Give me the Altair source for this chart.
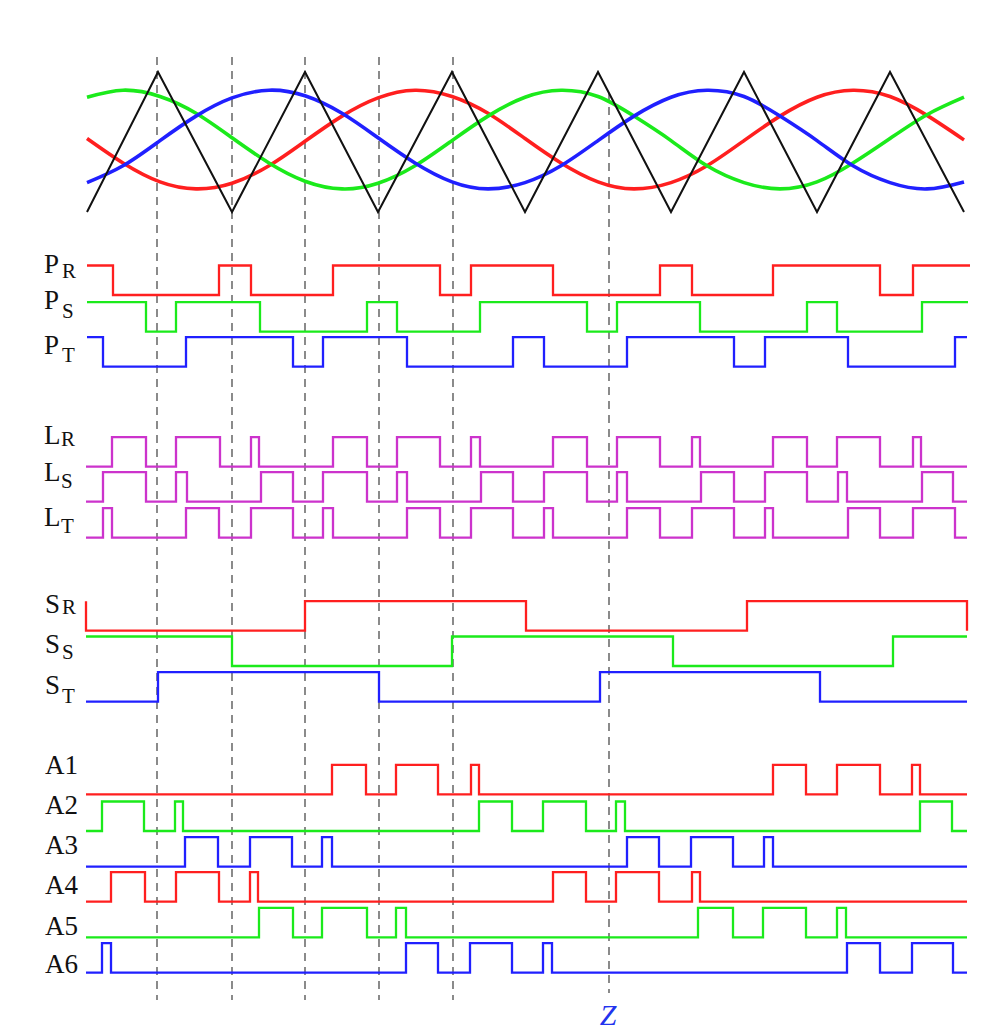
import altair as alt
import pandas as pd

# ---------------- data ----------------
# time axis in picture units (left end of the traces ~86, right end ~967)
carrier_t = [87, 158, 232, 305, 378, 452, 525, 598, 671, 744, 817, 890, 964]
carrier_v = [-1, 1, -1, 1, -1, 1, -1, 1, -1, 1, -1, 1, -1]

ref_t = [87, 123, 160, 196, 232, 269, 305, 342, 378, 415, 452, 488, 525,
         561, 598, 634, 671, 707, 744, 780, 817, 853, 890, 927, 964]
ref_red = [0.05, -0.30, -0.57, -0.67, -0.59, -0.34, 0.01, 0.37, 0.63, 0.74, 0.65, 0.41, 0.05,
           -0.30, -0.57, -0.67, -0.58, -0.34, 0.02, 0.37, 0.64, 0.74, 0.65, 0.38, 0.03]
ref_green = [0.64, 0.74, 0.65, 0.41, 0.06, -0.30, -0.56, -0.67, -0.59, -0.34, 0.02, 0.37, 0.64,
             0.74, 0.65, 0.37, 0.02, -0.34, -0.58, -0.67, -0.57, -0.30, 0.05, 0.39, 0.64]
ref_blue = [-0.58, -0.34, 0.02, 0.37, 0.63, 0.74, 0.66, 0.41, 0.06, -0.30, -0.57, -0.67, -0.58,
            -0.34, 0.02, 0.37, 0.64, 0.74, 0.65, 0.37, 0.02, -0.34, -0.58, -0.67, -0.57]

# digital traces: initial level + switching instants
PR_edges = [113, 219, 251, 333, 440, 471, 553, 660, 692, 773, 880, 913]
PS_edges = [146, 176, 260, 367, 397, 480, 587, 617, 700, 807, 837, 922]
PT_edges = [103, 186, 293, 323, 407, 513, 544, 627, 734, 765, 848, 955]
LR_edges = [112, 146, 176, 220, 251, 259, 333, 367, 397, 440, 471, 480,
            553, 587, 617, 660, 692, 700, 773, 807, 837, 880, 913, 921]
LS_edges = [103, 146, 176, 187, 261, 293, 323, 367, 397, 407, 481, 513,
            544, 587, 617, 627, 701, 734, 765, 807, 838, 847, 922, 953]
LT_edges = [103, 112, 186, 219, 251, 293, 323, 333, 407, 440, 471, 513,
            544, 553, 627, 660, 692, 734, 765, 773, 848, 880, 913, 955]
SR_edges = [86, 305, 526, 747, 967]
SS_edges = [232, 452, 673, 893]
ST_edges = [158, 379, 600, 820]
A1_edges = [332, 366, 396, 438, 471, 479, 773, 806, 837, 880, 912, 920]
A2_edges = [102, 144, 175, 183, 479, 512, 543, 586, 616, 625, 920, 952]
A3_edges = [185, 218, 250, 292, 322, 332, 627, 659, 691, 733, 764, 773]
A4_edges = [111, 145, 176, 219, 250, 258, 553, 586, 616, 659, 692, 700]
A5_edges = [259, 293, 322, 367, 396, 406, 698, 733, 763, 806, 837, 846]
A6_edges = [102, 111, 406, 438, 470, 512, 543, 552, 847, 880, 912, 953]

dashed_t = [157, 232, 305, 379, 453, 609]

# ---------------- layout / style ----------------
RED, GREEN, BLUE, MAG = "#ff1f1f", "#1bea1b", "#2020ff", "#cc33cc"
W, H = 992, 1030
WAVE_MID, WAVE_AMP = 142, 70
AMP = 29.5

# name: (start level, edges, low-level y, colour, t_start, t_end)
traces = {
    "PR": (1, PR_edges, 295.0, RED, 87, 970),
    "PS": (1, PS_edges, 331.7, GREEN, 87, 968),
    "PT": (1, PT_edges, 366.7, BLUE, 87, 967),
    "LR": (0, LR_edges, 466.7, MAG, 86, 967),
    "LS": (0, LS_edges, 501.7, MAG, 86, 967),
    "LT": (0, LT_edges, 537.7, MAG, 86, 967),
    "SR": (1, SR_edges, 630.7, RED, 86, 967),
    "SS": (1, SS_edges, 666.0, GREEN, 86, 967),
    "ST": (0, ST_edges, 701.7, BLUE, 86, 967),
    "A1": (0, A1_edges, 794.3, RED, 86, 967),
    "A2": (0, A2_edges, 831.0, GREEN, 86, 967),
    "A3": (0, A3_edges, 866.7, BLUE, 86, 967),
    "A4": (0, A4_edges, 901.7, RED, 86, 967),
    "A5": (0, A5_edges, 937.3, GREEN, 86, 967),
    "A6": (0, A6_edges, 972.7, BLUE, 86, 967),
}

rows = []
for name, (lvl0, edges, low, col, t0, t1) in traces.items():
    lvl = lvl0
    rows.append({"sig": name, "t": t0, "py": low - lvl * AMP, "col": col, "o": 0})
    for i, e in enumerate(edges):
        lvl = 1 - lvl
        rows.append({"sig": name, "t": e, "py": low - lvl * AMP, "col": col, "o": i + 1})
    rows.append({"sig": name, "t": t1, "py": low - lvl * AMP, "col": col, "o": len(edges) + 1})
dig = pd.DataFrame(rows)

waves = []
for nm, vals, col in [("red", ref_red, RED), ("green", ref_green, GREEN), ("blue", ref_blue, BLUE)]:
    for t, v in zip(ref_t, vals):
        waves.append({"w": nm, "t": t, "py": WAVE_MID - WAVE_AMP * v, "col": col})
waves = pd.DataFrame(waves)
carrier = pd.DataFrame({"t": carrier_t, "py": [WAVE_MID - WAVE_AMP * v for v in carrier_v]})

dash_df = pd.DataFrame({"t": dashed_t,
                        "y1": [57, 57, 57, 57, 57, 93],
                        "y2": [1000, 1000, 1000, 1000, 1000, 993]})

MF, SF = 27, 21
labels = pd.DataFrame([
    {"x": 44, "y": 273, "txt": "P", "fs": MF}, {"x": 62, "y": 278, "txt": "R", "fs": SF},
    {"x": 44, "y": 309, "txt": "P", "fs": MF}, {"x": 62, "y": 318, "txt": "S", "fs": SF},
    {"x": 44, "y": 354, "txt": "P", "fs": MF}, {"x": 62, "y": 362, "txt": "T", "fs": SF},
    {"x": 44, "y": 444, "txt": "L", "fs": MF}, {"x": 61, "y": 446, "txt": "R", "fs": SF},
    {"x": 44, "y": 481, "txt": "L", "fs": MF}, {"x": 61, "y": 488, "txt": "S", "fs": SF},
    {"x": 44, "y": 526, "txt": "L", "fs": MF}, {"x": 61, "y": 533, "txt": "T", "fs": SF},
    {"x": 45, "y": 613, "txt": "S", "fs": MF}, {"x": 62, "y": 614, "txt": "R", "fs": SF},
    {"x": 45, "y": 653, "txt": "S", "fs": MF}, {"x": 62, "y": 659, "txt": "S", "fs": SF},
    {"x": 45, "y": 694, "txt": "S", "fs": MF}, {"x": 62, "y": 703, "txt": "T", "fs": SF},
    {"x": 45, "y": 774, "txt": "A1", "fs": MF},
    {"x": 45, "y": 814, "txt": "A2", "fs": MF},
    {"x": 45, "y": 854, "txt": "A3", "fs": MF},
    {"x": 45, "y": 894, "txt": "A4", "fs": MF},
    {"x": 45, "y": 935, "txt": "A5", "fs": MF},
    {"x": 45, "y": 973, "txt": "A6", "fs": MF},
])
zlabel = pd.DataFrame({"x": [608], "y": [1025], "txt": ["Z"]})

# ---------------- chart ----------------
xs = alt.Scale(domain=[0, W], nice=False, zero=False)
ys = alt.Scale(domain=[0, H], nice=False, zero=False, reverse=True)

def X(f="t"):
    return alt.X(f"{f}:Q", scale=xs, axis=None)

def Y(f="py"):
    return alt.Y(f"{f}:Q", scale=ys, axis=None)

dash = alt.Chart(dash_df).mark_rule(color="#6e6e6e", strokeWidth=1.6, strokeDash=[8, 6]).encode(
    x=X(), y=Y("y1"), y2="y2:Q")

sines = alt.Chart(waves).mark_line(strokeWidth=3.6, interpolate="natural").encode(
    x=X(), y=Y(), detail="w:N", color=alt.Color("col:N", scale=None))

tri = alt.Chart(carrier).mark_line(color="#111111", strokeWidth=2).encode(x=X(), y=Y())

digital = alt.Chart(dig).mark_line(interpolate="step-after", strokeWidth=2.3).encode(
    x=X(), y=Y(), detail="sig:N", order="o:Q", color=alt.Color("col:N", scale=None))

text = alt.Chart(labels).mark_text(align="left", baseline="alphabetic",
                                   font="Liberation Serif, Times New Roman, serif",
                                   color="#111111").encode(
    x=X("x"), y=Y("y"), text="txt:N", size=alt.Size("fs:Q", scale=None))

ztext = alt.Chart(zlabel).mark_text(align="center", baseline="alphabetic",
                                    font="Liberation Serif, Times New Roman, serif",
                                    fontStyle="italic", fontSize=30, color="#2233ee").encode(
    x=X("x"), y=Y("y"), text="txt:N")

chart = alt.layer(dash, sines, tri, digital, text, ztext).properties(
    width=W, height=H, autosize=alt.AutoSizeParams(type="none"), padding=0,
    background="white"
).configure_view(stroke=None)

chart.save("out.html", embed_options={"renderer": "svg", "actions": False})
